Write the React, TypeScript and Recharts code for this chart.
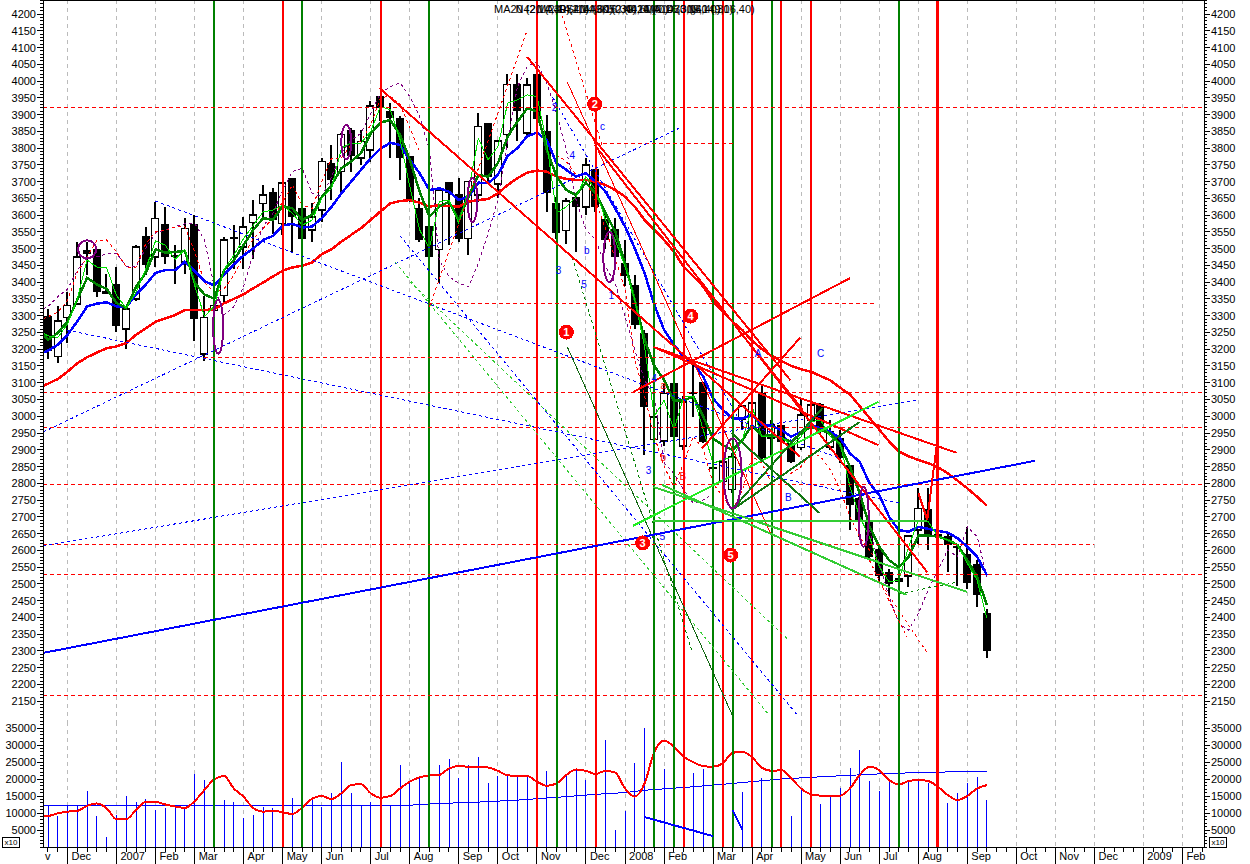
import React from "react";
import {
  Bar,
  CartesianGrid,
  ComposedChart,
  Line,
  ReferenceDot,
  ReferenceLine,
  XAxis,
  YAxis,
} from "recharts";

const opens = [3300,3178,3295,3335,3497,3500,3375,3395,3260,3350,3537,3475,3575,3480,3460,3575,3185,3315,3360,3535,3505,3578,3635,3670,3575,3710,3620,3555,3615,3755,3730,3855,3770,3795,3955,3910,3890,3775,3620,3568,3498,3700,3662,3530,3660,3874,3693,3840,3990,3845,4020,3852,3635,3554,3655,3625,3737,3588,3558,3456,3392,3247,2931,2927,3098,2911,3073,3103,2848,2805,2782,2990,2964,3068,2935,2974,2919,2907,2989,3036,2909,2934,2855,2755,2690,2603,2536,2516,2523,2660,2722,2650,2643,2613,2589,2558,2412];
const highs = [3320,3330,3370,3520,3520,3500,3425,3445,3320,3510,3565,3640,3625,3510,3590,3600,3360,3365,3535,3570,3595,3645,3690,3680,3695,3710,3620,3635,3770,3810,3845,3860,3855,3940,3955,3935,3895,3775,3650,3600,3675,3700,3710,3700,3905,3874,3822,4020,4020,4010,4020,3900,3655,3650,3660,3770,3737,3610,3590,3525,3420,3257,3000,3095,3098,3060,3170,3103,2860,2880,2890,3035,3050,3090,2990,2990,2925,3050,3040,3040,2990,2960,2855,2760,2700,2610,2545,2560,2645,2785,2785,2660,2650,2620,2670,2570,2425];
const lows = [3172,3160,3220,3335,3420,3355,3365,3250,3200,3345,3420,3445,3455,3395,3425,3225,3165,3175,3340,3440,3440,3470,3590,3545,3540,3490,3530,3520,3580,3645,3670,3730,3750,3760,3880,3770,3705,3640,3520,3430,3397,3510,3520,3480,3640,3700,3650,3800,3820,3835,3830,3610,3530,3515,3490,3600,3610,3500,3470,3390,3260,2885,2880,2910,2930,2900,2998,2920,2840,2780,2770,2960,2940,2870,2880,2890,2860,2900,2970,2950,2900,2860,2660,2640,2570,2510,2465,2490,2490,2620,2600,2540,2535,2495,2485,2430,2280];
const closes = [3195,3285,3330,3475,3483,3370,3365,3268,3320,3505,3450,3590,3475,3475,3560,3290,3295,3330,3525,3530,3565,3600,3660,3585,3695,3595,3530,3595,3760,3705,3840,3775,3820,3925,3920,3890,3770,3645,3525,3474,3675,3665,3528,3700,3864,3715,3822,3990,3912,3988,3886,3665,3546,3642,3625,3750,3625,3525,3476,3417,3272,3028,2997,3068,2937,3043,3066,2924,2842,2864,2879,3030,3040,2874,2975,2924,2864,3004,3033,2964,2954,2874,2735,2690,2581,2523,2501,2506,2643,2725,2643,2640,2616,2606,2504,2467,2301];

const blueAverage = [3196,3213,3243,3283,3328,3336,3340,3328,3326,3363,3393,3428,3436,3436,3461,3433,3403,3390,3423,3453,3480,3501,3526,3538,3569,3574,3563,3566,3591,3625,3665,3700,3735,3770,3798,3816,3809,3765,3725,3675,3680,3670,3645,3655,3697,3695,3720,3777,3800,3836,3846,3824,3755,3735,3715,3725,3700,3670,3620,3566,3501,3427,3332,3257,3213,3178,3158,3118,3053,3019,2994,2994,3004,2976,2971,2959,2939,2954,2974,2964,2954,2934,2889,2864,2800,2765,2700,2660,2656,2670,2664,2658,2653,2636,2611,2581,2526];
const redAverage = [3097,3111,3133,3158,3176,3190,3203,3208,3218,3243,3262,3282,3292,3302,3317,3317,3317,3319,3337,3350,3364,3382,3399,3417,3434,3444,3449,3459,3484,3498,3521,3541,3561,3586,3611,3635,3642,3645,3637,3625,3630,3627,3625,3640,3645,3648,3665,3690,3710,3727,3733,3730,3715,3708,3705,3705,3700,3690,3675,3655,3625,3586,3556,3526,3491,3446,3417,3387,3342,3312,3282,3257,3225,3200,3180,3165,3150,3140,3133,3120,3107,3085,3065,3030,2995,2960,2925,2895,2880,2870,2860,2848,2830,2808,2785,2760,2733];
const greenAverage = [3228,3248,3283,3348,3413,3393,3380,3338,3323,3386,3428,3498,3488,3490,3493,3398,3363,3351,3436,3466,3511,3556,3591,3586,3627,3620,3586,3601,3655,3690,3740,3760,3785,3844,3876,3884,3839,3765,3670,3595,3625,3640,3586,3655,3720,3715,3755,3834,3879,3919,3909,3795,3715,3675,3660,3697,3665,3606,3551,3456,3347,3228,3150,3108,3046,3048,3058,2999,2934,2914,2899,2929,2974,2941,2944,2934,2924,2949,2969,2959,2949,2914,2849,2770,2671,2611,2571,2549,2581,2644,2644,2641,2631,2616,2571,2521,2437];
const limeAverage = [3240,3235,3275,3350,3466,3445,3443,3360,3323,3370,3440,3523,3510,3468,3498,3390,3298,3328,3438,3480,3530,3570,3610,3615,3630,3605,3570,3585,3650,3680,3800,3815,3815,3850,3924,3914,3825,3685,3556,3501,3640,3645,3576,3675,3829,3765,3804,3934,3944,3959,3954,3814,3606,3625,3655,3715,3675,3586,3526,3446,3347,3208,3000,3048,2959,3058,3058,2959,2860,2870,2879,2929,3028,2939,2939,2939,2914,2939,2984,2988,2939,2919,2790,2700,2640,2551,2506,2511,2611,2690,2685,2641,2631,2616,2561,2511,2397];
const purpleBand = [3327,3357,3379,3436,3471,3476,3484,3486,3448,3446,3501,3546,3556,3566,3574,3576,3526,3387,3302,3327,3387,3486,3566,3606,3675,3730,3740,3665,3655,3715,3785,3824,3844,3904,3964,3983,3995,3953,3894,3795,3466,3417,3397,3387,3456,3546,3645,3824,3983,4043,4058,3993,3904,3795,3645,3556,3526,3446,3397,3297,3198,3108,3058,2860,2830,2780,2740,2750,2770,null,null,null,null,null,null,null,null,null,null,null,null,null,null,null,2660,2560,2462,2382,2362,2412,2482,2541,2601,2581,2670,2641,2522];
const redBand = [3297,3310,3345,3430,3475,3525,3526,3490,3445,3445,3515,3550,3555,3565,3565,3490,3400,3370,3380,3420,3480,3530,3560,3590,3640,3690,3630,3620,3700,3770,3770,3810,3820,3870,3950,3955,3930,3860,3790,null,null,null,null,null,null,null,null,null,null,null,null,null,3780,3760,3720,3700,3640,3560,3470,3380,3170,3060,2940,2850,2790,2860,2940,2900,2800,2760,2720,2780,2880,2860,2800,2830,2830,2850,2890,2880,2840,2780,2700,2640,2600,2560,null,null,null,null,null,null,null,null,null,null,null];

const volumes = [12000,9000,12000,12000,16500,9000,3000,9400,15000,13300,14100,10900,11500,11900,11400,21500,19700,20000,13800,13300,8600,9400,11900,11500,10000,14300,11000,13800,11900,16000,25000,15800,12300,13300,15000,12000,24100,19200,20500,20000,24100,25800,20400,24100,26400,18700,20900,20900,20900,21200,20000,22300,19000,20900,22600,19700,20000,31500,5000,10600,24800,34900,20000,22900,20000,10000,21900,22900,12000,10000,10000,16300,15000,20200,15000,10000,9100,17000,14000,12600,14800,17500,23100,28500,19400,16600,19700,18000,19200,19700,18700,18000,12800,15800,18700,20500,13800];
const volumeAverage = [9100,9900,10400,10600,12100,12800,11400,8200,8200,10900,13300,13300,12500,11900,11500,13500,16800,19900,20900,17200,14800,11400,10400,10700,10200,9700,11600,14200,15000,14100,15800,18200,18500,15800,14500,15000,17200,19200,20500,21000,21200,23100,23800,23600,23600,23400,22400,21100,20900,20900,19200,18000,18700,21200,22800,22400,21500,22400,21900,17200,14800,18700,28000,31300,29500,26600,24900,23800,23600,24600,27700,28000,26400,23300,22400,22600,20200,17200,15500,15100,15000,15100,17200,21200,23600,22600,19700,18400,19400,19700,19400,17700,15300,13800,15000,17200,18200];
const longVolumeWeeks = [-0.5,37,40,44,48,52,56,59,61,65,70,75,80,85,90,96];
const longVolumeValues = [12300,12300,12800,13200,13800,14600,15500,16000,16700,17500,18700,20000,20800,21500,22000,22200];

const greenSignals = [17,26,39,52,62,64,68,70,74,87];
const redSignals = [24,34,50,56,65,69,72,75,78];
const strongSignals = [91];

const monthWeeks = [2,7,11,15,20,24,28,33,37,42,46,50,55,59,63,68,72,77,81,85,89,94,99,103,107,112,116];
const monthNames = ["Dec","2007","Feb","Mar","Apr","May","Jun","Jul","Aug","Sep","Oct","Nov","Dec","2008","Feb","Mar","Apr","May","Jun","Jul","Aug","Sep","Oct","Nov","Dec","2009","Feb"];

// week, price, week, price
const dashedRedLevels = [
  [-0.51,3922,118.2,3922],[16,3174,77,3174],[39,3335,84.7,3335],[56,3815,70,3815],
  [-0.51,3072,118.2,3072],[-0.51,2965,118.2,2965],[-0.51,2795,118.2,2795],
  [-0.5,2616,107,2616],[-0.51,2527,118.2,2527],[-0.51,2166,118.2,2166],
];
const thickBlueTrends = [[-0.5,2294,100.9,2867]];
const dashedBlueTrends = [
  [-0.5,2953,64.8,3863],[-0.5,2613,88.9,3049],[11,3642,80.8,2876],
  [2,3257,87.1,2741],[36,3538,76.7,2106],[51.6,3952,71.3,2959],
];
const dashedLightGreenTrends = [[37,3401,75.7,2333],[35.5,3460,73.8,2106]];
const dashedDarkGreenTrends = [[53.6,3475,65.8,2303],[87,2470,93,2505]];
const thinDarkGreenTrends = [[53.1,3207,70,2106]];
const dashedRedTrends = [[39,3326,49,4152],[52.4,4212,56.7,3803],[84.9,2512,89.9,2294],[84,2570,87.8,2342]];
const thinRedTrends = [[53.1,3997,73.9,2649]];
const thickRedTrends = [
  [33.9,3979,65.6,3168],[61.9,3207,92.9,2891],[49,4072,75.9,3108],[55.9,3809,89.9,2535],
  [59.8,3072,82,3412],[66.9,2905,76.9,3234],[61.9,3207,84.9,2914],[65.8,3165,76.9,2879],
  [70.6,3257,77.2,3019],[89,2771,89.9,2691],[89.9,2691,90.9,2920],
];
const mediumGreenTrends = [[61.9,2789,94,2476],[62.8,2795,87.8,2467],[61.9,2686,89.9,2688]];
const limeTrends = [[59.8,2673,84.9,3043]];
const darkGreenTrends = [[69.9,2720,79.2,3025],[69.9,2720,83,2983],[69.9,2950,78.9,2711]];
const volumeTrends = [[61,8800,68,3200],[70,10900,71,5000]];

const ovalWeeks = [4,30.5,17.4,43.4,57.4,70,83.4];
const ovalPrices = [3498,3818,3267,3645,3475,2830,2700];
const ovalWidths = [9,5,5,5,6,9,5];
const ovalHeights = [9,17,27,22,25,35,30];

const badgeWeeks = [53,55.9,60.8,65.7,69.8];
const badgePrices = [3251,3931,2622,3299,2586];
const badgeTexts = ["1","2","3","4","5"];

const waveWeeks = [51.8,53.6,52.2,54.8,57.6,56.7,55.1,61.4,62.8,72.6,79,75.7,62.9,62.9,64.9,62];
const wavePrices = [3922,3780,3436,3395,3362,3866,3496,2840,2643,3189,3189,2760,3093,2878,2822,3115];
const waveTexts = ["2","4","3","5","1","c","b","3","5","A","C","B","a","b","B","4"];
const waveColors = ["#0000ff","#0000ff","#0000ff","#0000ff","#0000ff","#0000ff","#0000ff","#0000ff","#0000ff","#0000ff","#0000ff","#0000ff","#ff0000","#ff0000","#ff0000","#0000ff"];

const captions = ["MA20 (2,14,30)","N420 (2,14,40)","MA40 (2,14,60)","RSI14 (9,16,30)","MA30 (2,40,60)","K50 (9,14,40)","N420 (9,16,30)","MA14 (3,16,40)","D30 (9,14,30)","N40 (9,16,40)"];
const bottomCaption = "x10";

const priceLabels = [2150,2200,2250,2300,2350,2400,2450,2500,2550,2600,2650,2700,2750,2800,2850,2900,2950,3000,3050,3100,3150,3200,3250,3300,3350,3400,3450,3500,3550,3600,3650,3700,3750,3800,3850,3900,3950,4000,4050,4100,4150,4200];
const volumeLabels = [5000,10000,15000,20000,25000,30000,35000];
const priceTicks: number[] = [];
for (let p = 2090; p <= 4240; p += 10) priceTicks.push(p);
const volumeTicks: number[] = [];
for (let v = 0; v <= 36000; v += 1000) volumeTicks.push(v);
const weekTicks: number[] = [-0.3];
for (let w = 0; w <= 118; w += 1) weekTicks.push(w);

// the averages were already running when the window starts, left of the first candle
const leadIn = {
  week: -0.5,
  blue: 3190,
  red: 3091,
  green: 3245,
  lime: 3248,
  purpleBand: 3320,
  redBand: 3290,
  volumeAverage: 9000,
};

const weekly = [
  leadIn,
  ...opens.map((open, week) => ({
    week,
    open,
    close: closes[week],
    range: [lows[week], highs[week]],
    blue: blueAverage[week],
    red: redAverage[week],
    green: greenAverage[week],
    lime: limeAverage[week],
    purpleBand: purpleBand[week],
    redBand: redBand[week],
    volume: volumes[week],
    volumeAverage: volumeAverage[week],
  })),
];
const longVolume = longVolumeWeeks.map((week, i) => ({ week, value: longVolumeValues[i] }));

const WEEK_DOMAIN: [number, number] = [-0.51, 118.2];
const FONT = "'Liberation Sans', Arial, sans-serif";

const Candle = (props: any) => {
  const { x, y, width, height, payload } = props;
  if (!payload.range) return <g />;
  const [low, high] = payload.range;
  const unit = height / Math.max(high - low, 1);
  const cx = Math.round(x + width / 2);
  const top = y + (high - Math.max(payload.open, payload.close)) * unit;
  const bodyH = Math.max(Math.abs(payload.open - payload.close) * unit, 2);
  const up = payload.close > payload.open;
  return (
    <g>
      <line x1={cx} x2={cx} y1={y} y2={y + height} stroke="#000" strokeWidth={2} />
      {up ? (
        <rect x={cx - 3.5} y={top} width={7} height={bodyH} fill="#fff" stroke="#000" strokeWidth={1.6} />
      ) : (
        <rect x={cx - 4} y={top} width={8} height={bodyH} fill="#000" />
      )}
    </g>
  );
};

const axisTick = (labels: number[], side: "left" | "right") => (props: any) => {
  const { x, y, payload } = props;
  const major = labels.includes(payload.value);
  const dir = side === "left" ? -1 : 1;
  return (
    <g>
      <line x1={x} x2={x + dir * (major ? 6 : 3)} y1={y} y2={y} stroke="#000" />
      {major && (
        <text x={x + dir * 7} y={y + 4} textAnchor={side === "left" ? "end" : "start"} fontSize={11} fontFamily={FONT} fill="#000">
          {payload.value}
        </text>
      )}
    </g>
  );
};

const WeekTick = (props: any) => {
  const { x, y, payload } = props;
  if (payload.value < 0) {
    return <text x={x} y={y + 13} fontSize={11} fontFamily={FONT} fill="#000">v</text>;
  }
  const at = monthWeeks.indexOf(payload.value);
  return (
    <g>
      <line x1={x} x2={x} y1={y} y2={y + (at >= 0 ? 17 : 5)} stroke="#000" />
      {at >= 0 && (
        <text x={x + 4} y={y + 13} fontSize={11} fontFamily={FONT} fill="#000">
          {monthNames[at]}
        </text>
      )}
    </g>
  );
};

const segments = (list: number[][], color: string, width: number, dash?: string) =>
  list.map((s, i) => (
    <ReferenceLine
      key={color + width + (dash || "") + i}
      yAxisId="left"
      segment={[{ x: s[0], y: s[1] }, { x: s[2], y: s[3] }]}
      stroke={color}
      strokeWidth={width}
      strokeDasharray={dash}
    />
  ));

const verticals = (list: number[], color: string, width: number) =>
  list.map((week) => (
    <ReferenceLine key={color + week} yAxisId="left" x={week} stroke={color} strokeWidth={width} />
  ));

const PriceChart = () => (
  <ComposedChart width={1250} height={722} data={weekly} margin={{ top: 0, right: 0, bottom: 0, left: 0 }}>
    <CartesianGrid horizontal={false} verticalValues={monthWeeks} stroke="#bbbbbb" strokeDasharray="4 4" />
    <XAxis dataKey="week" type="number" domain={WEEK_DOMAIN} allowDataOverflow hide />
    <YAxis yAxisId="left" orientation="left" width={43} domain={[2087.9, 4241.8]} allowDataOverflow ticks={priceTicks} interval={0} tickLine={false} tickSize={0} tickMargin={0} tick={axisTick(priceLabels, "left")} stroke="#000" />
    <YAxis yAxisId="right" orientation="right" width={46} domain={[2087.9, 4241.8]} allowDataOverflow ticks={priceTicks} interval={0} tickLine={false} tickSize={0} tickMargin={0} tick={axisTick(priceLabels, "right")} stroke="#000" />
    <Bar yAxisId="left" dataKey="range" barSize={9} shape={Candle} isAnimationActive={false} />
    <Line yAxisId="left" dataKey="purpleBand" stroke="#800080" strokeWidth={1} strokeDasharray="3 3" dot={false} isAnimationActive={false} />
    <Line yAxisId="left" dataKey="redBand" stroke="#ff0000" strokeWidth={1} strokeDasharray="3 3" dot={false} isAnimationActive={false} />
    <Line yAxisId="left" dataKey="red" stroke="#ff0000" strokeWidth={2.5} dot={false} isAnimationActive={false} />
    <Line yAxisId="left" dataKey="blue" stroke="#0000ff" strokeWidth={2.5} dot={false} isAnimationActive={false} />
    <Line yAxisId="left" dataKey="green" stroke="#008000" strokeWidth={2.5} dot={false} isAnimationActive={false} />
    <Line yAxisId="left" dataKey="lime" stroke="#00e000" strokeWidth={1} dot={false} isAnimationActive={false} />
    {verticals(greenSignals, "#008000", 2)}
    {verticals(redSignals, "#ff0000", 2)}
    {verticals(strongSignals, "#ff0000", 3)}
    {segments(dashedRedLevels, "#ff0000", 1, "4 3")}
    {segments(dashedBlueTrends, "#0000ff", 1, "3 3")}
    {segments(dashedLightGreenTrends, "#33cc33", 1, "3 3")}
    {segments(dashedDarkGreenTrends, "#008000", 1, "3 3")}
    {segments(dashedRedTrends, "#ff0000", 1, "3 3")}
    {segments(thinDarkGreenTrends, "#116611", 1)}
    {segments(thinRedTrends, "#ff0000", 1)}
    {segments(thickBlueTrends, "#0000ff", 2)}
    {segments(thickRedTrends, "#ff0000", 2)}
    {segments(mediumGreenTrends, "#33cc33", 2)}
    {segments(limeTrends, "#22ee22", 2)}
    {segments(darkGreenTrends, "#117711", 2)}
    {ovalWeeks.map((week, i) => (
      <ReferenceDot
        key={"oval" + i}
        yAxisId="left"
        x={week}
        y={ovalPrices[i]}
        r={1}
        shape={(p: any) => (
          <ellipse cx={p.cx} cy={p.cy} rx={ovalWidths[i]} ry={ovalHeights[i]} fill="none" stroke="#800080" strokeWidth={2} />
        )}
      />
    ))}
    {badgeWeeks.map((week, i) => (
      <ReferenceDot
        key={"badge" + i}
        yAxisId="left"
        x={week}
        y={badgePrices[i]}
        r={1}
        shape={(p: any) => (
          <g>
            <circle cx={p.cx} cy={p.cy} r={7.5} fill="#ff0000" />
            <text x={p.cx} y={p.cy + 4} textAnchor="middle" fontSize={11} fontWeight="bold" fontFamily={FONT} fill="#fff">
              {badgeTexts[i]}
            </text>
          </g>
        )}
      />
    ))}
    {waveWeeks.map((week, i) => (
      <ReferenceDot
        key={"wave" + i}
        yAxisId="left"
        x={week}
        y={wavePrices[i]}
        r={1}
        shape={(p: any) => (
          <text x={p.cx} y={p.cy + 4} textAnchor="middle" fontSize={10} fontFamily={FONT} fill={waveColors[i]}>
            {waveTexts[i]}
          </text>
        )}
      />
    ))}
  </ComposedChart>
);

const VolumeChart = () => (
  <ComposedChart width={1250} height={142} data={weekly} margin={{ top: 0, right: 0, bottom: 0, left: 0 }}>
    <CartesianGrid horizontal={false} verticalValues={monthWeeks} stroke="#bbbbbb" strokeDasharray="4 4" />
    <XAxis dataKey="week" type="number" domain={WEEK_DOMAIN} allowDataOverflow height={17} ticks={weekTicks} interval={0} tickLine={false} tickSize={0} tickMargin={0} tick={WeekTick} stroke="#000" />
    <YAxis yAxisId="left" orientation="left" width={43} domain={[0, 36765]} allowDataOverflow ticks={volumeTicks} interval={0} tickLine={false} tickSize={0} tickMargin={0} tick={axisTick(volumeLabels, "left")} stroke="#000" />
    <YAxis yAxisId="right" orientation="right" width={46} domain={[0, 36765]} allowDataOverflow ticks={volumeTicks} interval={0} tickLine={false} tickSize={0} tickMargin={0} tick={axisTick(volumeLabels, "right")} stroke="#000" />
    <Bar yAxisId="left" dataKey="volume" barSize={1} fill="#0000ff" isAnimationActive={false} />
    <Line yAxisId="left" data={longVolume} dataKey="value" stroke="#0000ff" strokeWidth={1} dot={false} isAnimationActive={false} />
    <Line yAxisId="left" dataKey="volumeAverage" type="monotone" stroke="#ff0000" strokeWidth={2} dot={false} isAnimationActive={false} />
    {verticals(greenSignals, "#008000", 2)}
    {verticals(redSignals, "#ff0000", 2)}
    {verticals(strongSignals, "#ff0000", 3)}
    {segments(volumeTrends, "#0000ff", 2)}
  </ComposedChart>
);

const boxStyle: React.CSSProperties = {
  position: "absolute",
  top: 837,
  width: 16,
  height: 9,
  border: "1px solid #000",
  fontSize: 8,
  lineHeight: "9px",
  textAlign: "center",
  fontFamily: FONT,
};

export default function App() {
  return (
    <div style={{ position: "absolute", left: 0, top: 0, width: 1250, height: 864, background: "#fff", overflow: "hidden", shapeRendering: "crispEdges" }}>
      <div style={{ position: "absolute", left: 0, top: 0 }}><PriceChart /></div>
      <div style={{ position: "absolute", left: 0, top: 722 }}><VolumeChart /></div>
      <div style={{ position: "absolute", left: 43, top: 0, width: 1161, height: 1, background: "#000" }} />
      {captions.map((caption, i) => (
        <div key={caption} style={{ position: "absolute", left: 494 + i * 21.5, top: 3, fontSize: 11, fontFamily: FONT, whiteSpace: "pre", color: "#000" }}>
          {caption}
        </div>
      ))}
      <div style={{ ...boxStyle, left: 2 }}>{bottomCaption}</div>
      <div style={{ ...boxStyle, left: 1209 }}>{bottomCaption}</div>
    </div>
  );
}
